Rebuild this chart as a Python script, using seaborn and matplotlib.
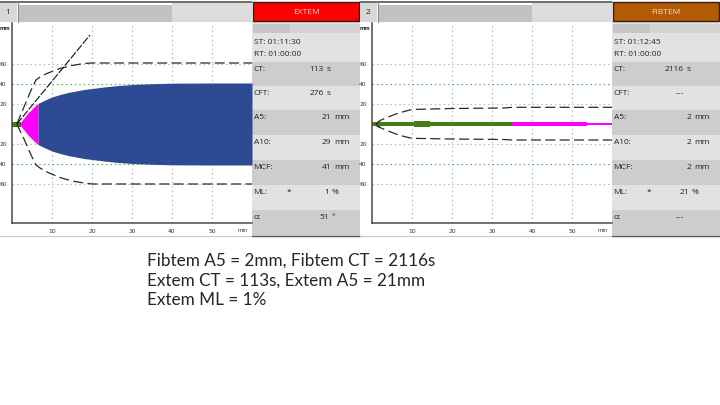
import matplotlib
matplotlib.use("Agg")
import matplotlib.pyplot as plt
from matplotlib import font_manager
from matplotlib.patches import Rectangle
import seaborn as sns

W, H = 720, 405

# EXTEM trace, minutes / mm (half amplitude drawn above and below 0)
extem_time = [1.88, 2.5, 3.0, 3.5, 4.0, 4.5, 5.0, 5.5, 6.0, 6.5, 7.0, 8.0, 9.0, 10.0,
              12.0, 14.0, 16.0, 18.0, 20.0, 23.0, 26.0, 30.0, 35.0, 40.0, 50.0, 60.0]
extem_amp = [0, 3.5, 6, 8.5, 11, 13, 15, 17, 19, 20.5, 21.5, 23.5, 25.3, 27,
             29.5, 31.5, 33, 34.5, 35.5, 37, 38.3, 39.5, 40.3, 40.8, 41, 41]
extem_ct = 1.88
extem_cft_end = 6.5

extem_env_time = [1.2, 3, 5, 6, 7, 9, 12, 15, 18, 20, 60]
extem_env_upper = [0, 17, 36, 44, 47, 51, 55.5, 58.5, 60.5, 61, 61]
extem_env_lower = [0, -15, -33, -41, -44, -48.5, -53.5, -57, -59, -60, -60]
extem_alpha_time = [1.2, 19.5]
extem_alpha_amp = [0, 89]

# FIBTEM trace segments
fibtem_seg_start = [0.0, 10.6, 35.0, 53.7]
fibtem_seg_end = [35.0, 14.5, 53.7, 60.0]
fibtem_seg_amp = [2.3, 3.0, 2.3, 1.4]
fibtem_env_time = [1, 2, 4, 6, 8, 10, 20, 33, 35, 60]
fibtem_env_upper = [0, 3.5, 7, 10, 12.5, 14.5, 15.5, 16, 16.7, 16.7]
fibtem_env_lower = [0, -3.5, -7, -10, -12.5, -14.3, -15, -15.5, -16, -16]

x_ticks = [10, 20, 30, 40, 50]
y_ticks = [60, 40, 20, -20, -40, -60]

param_labels = ["CT:", "CFT:", "A5:", "A10:", "MCF:", "ML:", "α:"]
param_units = ["s", "s", "mm", "mm", "mm", "%", "°"]
extem_values = ["113", "276", "21", "29", "41", "1", "51"]
fibtem_values = ["2116", "---", "2", "2", "2", "21", "---"]

notes = ["Fibtem A5 = 2mm, Fibtem CT = 2116s",
         "Extem CT = 113s, Extem A5 = 21mm",
         "Extem ML = 1%"]


def have_font(name):
    try:
        font_manager.findfont(font_manager.FontProperties(family=name),
                              fallback_to_default=False)
        return True
    except ValueError:
        return False


sns.set_style("white")
if have_font("Liberation Sans Narrow"):
    panel_font, panel_size = "Liberation Sans Narrow", 7.1
else:
    panel_font, panel_size = "Open Sans", 6.0
note_font = "Lato" if have_font("Lato") else "DejaVu Sans"

fig = plt.figure(figsize=(W / 100, H / 100), dpi=100)
bg = fig.add_axes([0, 0, 1, 1])
bg.set_xlim(0, W)
bg.set_ylim(H, 0)
bg.axis("off")

blue = "#2E4A95"
magenta = "#FF00FF"
green = "#467D14"
grid_grey = "#BDBDBD"
grid_green = "#4CC44C"
dash_col = "#2A2A2A"


def px_axes(x0, y0, x1, y1):
    return fig.add_axes([x0 / W, 1 - y1 / H, (x1 - x0) / W, (y1 - y0) / H])


def rect(x0, y0, x1, y1, color, **kw):
    bg.add_patch(Rectangle((x0, y0), x1 - x0, y1 - y0, facecolor=color,
                           edgecolor=kw.pop("edgecolor", "none"), **kw))


def draw_frame(x_off, number):
    # header strip of the tracing
    rect(x_off, 3, x_off + 17, 22, "#D8D8D8")
    rect(x_off + 18, 5, x_off + 172, 22, "#C2C2C2")
    rect(x_off + 172, 3, x_off + 252, 22, "#DCDCDC")
    bg.plot([x_off, x_off + 252], [1.5, 1.5], color="#555555", lw=1.2)
    bg.plot([x_off + 17.5, x_off + 17.5], [2, 23], color="#8A8A8A", lw=0.8)
    bg.text(x_off + 8, 12.5, str(number), ha="center", va="center",
            fontsize=panel_size, family=panel_font, color="#222222")
    bg.plot([x_off, x_off + 252], [236, 236], color="#C8C8C8", lw=0.8)

    ax = px_axes(x_off + 12, 23, x_off + 252, 223)
    ax.set_xlim(0, 60)
    ax.set_ylim(-99, 101)
    for s in ["top", "right"]:
        ax.spines[s].set_visible(False)
    for s in ["left", "bottom"]:
        ax.spines[s].set_color("#4A4A4A")
        ax.spines[s].set_linewidth(1.1)
    ax.set_xticks(x_ticks)
    ax.set_xticklabels([str(t) for t in x_ticks])
    ax.set_yticks(y_ticks)
    ax.set_yticklabels([str(abs(t)) for t in y_ticks])
    ax.tick_params(length=0, labelsize=4.3, colors="#333333")
    ax.tick_params(axis="x", pad=4)
    ax.tick_params(axis="y", pad=3.8)
    for t in x_ticks:
        ax.axvline(t, color=grid_grey, lw=0.8, ls=(0, (1.5, 2.5)), zorder=0)
    for v in [60, 20, -20, -60]:
        ax.axhline(v, color=grid_grey, lw=0.8, ls=(0, (1.5, 2.5)), zorder=0)
    for v in [40, -40]:
        ax.axhline(v, color=grid_green, lw=0.8, ls=(0, (1.5, 2.5)), zorder=0)
    ax.set_xlabel("")
    ax.set_ylabel("")
    bg.text(x_off + 4.5, 29, "mm", ha="center", va="center", fontsize=3.8,
            color="#333333", fontweight="bold")
    bg.text(x_off + 243, 230.5, "min", ha="center", va="center", fontsize=4.0,
            color="#333333")
    return ax


def draw_side(x_off, name, box_color, text_color, start_time, values):
    x0 = x_off + 253
    rect(x_off + 252, 21, x_off + 360, 236, "#E2E2E2")
    rect(x0, 2, x_off + 359, 21, box_color, edgecolor="#3A1A10", lw=1.0)
    bg.text(x_off + 306, 12, name, ha="center", va="center", color=text_color,
            fontsize=panel_size, family=panel_font)
    rect(x0, 23.5, x0 + 37, 33, "#C6C6C6")
    rect(x0 + 37, 23.5, x_off + 360, 33, "#D3D3D3")
    bg.text(x0 + 0.5, 42.5, "ST: " + start_time, ha="left", va="center",
            fontsize=panel_size, family=panel_font, color="#222222")
    bg.text(x0 + 0.5, 54.5, "RT: 01:00:00", ha="left", va="center",
            fontsize=panel_size, family=panel_font, color="#222222")
    band_tops = [62, 86, 110, 135, 160, 185, 210]
    band_bottoms = [86, 110, 135, 160, 185, 210, 235]
    num_right = {"s": 71, "mm": 78, "%": 76, "°": 76}
    for i, lab in enumerate(param_labels):
        if i % 2 == 0:
            rect(x_off + 252, band_tops[i], x_off + 360, band_bottoms[i], "#CDCDCD")
        y = band_tops[i] + 7.5
        bg.text(x0 + 0.5, y, lab, ha="left", va="center", fontsize=panel_size,
                family=panel_font, color="#222222")
        val = values[i]
        if val == "---":
            bg.text(x0 + 67, y, val, ha="center", va="center", fontsize=panel_size,
                    family=panel_font, color="#222222")
        else:
            unit = param_units[i]
            bg.text(x0 + num_right[unit], y, val, ha="right", va="center",
                    fontsize=panel_size, family=panel_font, color="#222222")
            bg.text(x0 + num_right[unit] + 3, y, unit, ha="left", va="center",
                    fontsize=panel_size, family=panel_font, color="#222222")
        if lab == "ML:":
            bg.text(x0 + 36, y, "*", ha="center", va="center", fontsize=panel_size,
                    family=panel_font, color="#222222")
    bg.plot([x_off + 252, x_off + 360], [236, 236], color="#555555", lw=1.0)


# ---- panel 1: EXTEM
ax1 = draw_frame(0, 1)
mag_t = [t for t in extem_time if t <= extem_cft_end]
mag_a = extem_amp[:len(mag_t)]
blue_t = [t for t in extem_time if t >= extem_cft_end]
blue_a = extem_amp[len(extem_time) - len(blue_t):]
ax1.fill_between(mag_t, [-a for a in mag_a], mag_a, color=magenta, lw=0, zorder=2)
ax1.fill_between(blue_t, [-a for a in blue_a], blue_a, color=blue, lw=0, zorder=2)
ax1.fill_between([0, extem_ct], [-2, -2], [2, 2], color=green, edgecolor="#2C5A08",
                 lw=0.6, zorder=3)
sns.lineplot(x=extem_env_time, y=extem_env_upper, ax=ax1, color=dash_col, lw=0.9,
             linestyle=(0, (8, 3.5)), zorder=4)
sns.lineplot(x=extem_env_time, y=extem_env_lower, ax=ax1, color=dash_col, lw=0.9,
             linestyle=(0, (8, 3.5)), zorder=4)
sns.lineplot(x=extem_alpha_time, y=extem_alpha_amp, ax=ax1, color="#111111", lw=0.8,
             linestyle=(0, (7, 1.5)), zorder=4)
ax1.set_xlim(0, 60)
ax1.set_ylim(-99, 101)
draw_side(0, "EXTEM", "#FF0000", "#FFD2D2", "01:11:30", extem_values)

# ---- panel 2: FIBTEM
ax2 = draw_frame(360, 2)
seg_colors = [green, green, magenta, magenta]
for s, e, a, c in zip(fibtem_seg_start, fibtem_seg_end, fibtem_seg_amp, seg_colors):
    ax2.fill_between([s, e], [-a, -a], [a, a], color=c, lw=0, zorder=2)
ax2.plot([0.9], [0], marker="<", ms=4.5, color=green, zorder=3)
sns.lineplot(x=fibtem_env_time, y=fibtem_env_upper, ax=ax2, color=dash_col, lw=0.9,
             linestyle=(0, (8, 3.5)), zorder=4)
sns.lineplot(x=fibtem_env_time, y=fibtem_env_lower, ax=ax2, color=dash_col, lw=0.9,
             linestyle=(0, (8, 3.5)), zorder=4)
ax2.set_xlim(0, 60)
ax2.set_ylim(-99, 101)
draw_side(360, "FIBTEM", "#B35A05", "#F6DCC0", "01:12:45", fibtem_values)

# ---- notes below the tracings
for i, line in enumerate(notes):
    bg.text(147, 266 + i * 19.7, line, ha="left", va="baseline", fontsize=12.3,
            family=note_font, color="#262626")

fig.savefig("out.png", dpi=100)
